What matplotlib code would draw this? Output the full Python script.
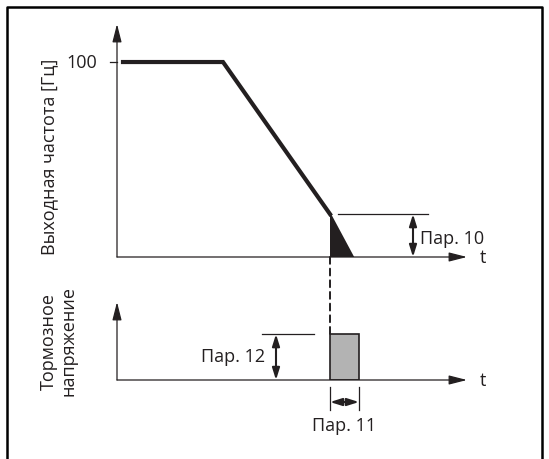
import matplotlib.pyplot as plt
from matplotlib.lines import Line2D
from matplotlib.patches import Rectangle, ConnectionPatch

plt.rcParams['font.family'] = ['Open Sans', 'DejaVu Sans']

# output frequency profile (t in arbitrary units, f in Hz)
ramp_t = [0.06, 1.06, 2.13]
ramp_f = [100, 100, 22]
brake_t = [2.13, 2.36]
brake_f = [22, 0]
par10_level = 22
f_tick = 100

# braking voltage pulse
dc_start = 2.13
dc_end = 2.42
dc_level = 1.0

freq_label = 'Выходная частота [Гц]'
volt_label = 'Тормозное\nнапряжение'
par_labels = ['Пар. 10', 'Пар. 11', 'Пар. 12']

ink = '#231f20'
fs = 13

W, H = 549, 460
fig = plt.figure(figsize=(W / 100, H / 100), dpi=100)

ax1 = fig.add_axes([117 / W, (H - 258) / H, 375 / W, 233 / H])
ax2 = fig.add_axes([117 / W, (H - 381) / H, 375 / W, 78 / H])
for ax, top in [(ax1, 119.5), (ax2, 1.7)]:
    ax.set_xlim(0, 3.75)
    ax.set_ylim(0, top)
    ax.axis('off')
    # axes with arrow heads
    ax.annotate('', xy=(0, top), xytext=(0, 0), annotation_clip=False,
                arrowprops=dict(arrowstyle='-|>,head_length=1.1,head_width=0.28',
                                mutation_scale=10, lw=0.9, color=ink,
                                shrinkA=0, shrinkB=0))
    ax.annotate('', xy=(3.5, 0), xytext=(0, 0), annotation_clip=False,
                arrowprops=dict(arrowstyle='-|>,head_length=1.1,head_width=0.28',
                                mutation_scale=10, lw=0.9, color=ink,
                                shrinkA=0, shrinkB=0))
    ax.text(3.66, 0, 't', fontsize=fs, color=ink, ha='center', va='center')

dbl = dict(arrowstyle='<|-|>,head_length=0.7,head_width=0.22',
           mutation_scale=10, lw=1.5, color=ink, shrinkA=0, shrinkB=0)

# top chart
ax1.plot([-0.07, 0], [f_tick, f_tick], color=ink, lw=0.9, clip_on=False)
ax1.text(-0.2, f_tick, str(f_tick), fontsize=fs, color=ink, ha='right', va='center')
ax1.plot(ramp_t, ramp_f, color=ink, lw=3, solid_joinstyle='miter', clip_on=False)
ax1.fill([brake_t[0], brake_t[0], brake_t[1]], [brake_f[0], 0, brake_f[1]],
         color=ink, lw=0)
ax1.plot(brake_t, brake_f, color=ink, lw=1.5)
ax1.plot([2.21, 3.11], [par10_level, par10_level], color=ink, lw=0.9)
ax1.annotate('', xy=(2.96, 0), xytext=(2.96, par10_level), arrowprops=dbl)
ax1.text(3.03, 9.5, par_labels[0], fontsize=fs, color=ink, ha='left', va='center')

# bottom chart
ax2.add_patch(Rectangle((dc_start, 0), dc_end - dc_start, dc_level,
                        facecolor='#b3b3b3', edgecolor=ink, lw=1.2))
ax2.plot([1.45, 1.97], [dc_level, dc_level], color=ink, lw=0.9)
ax2.annotate('', xy=(1.59, 0), xytext=(1.59, dc_level), arrowprops=dbl)
ax2.text(1.48, 0.52, par_labels[2], fontsize=fs, color=ink, ha='right', va='center')
for x in [dc_start, dc_end]:
    ax2.plot([x, x], [-0.15, -0.65], color=ink, lw=0.9, clip_on=False)
ax2.annotate('', xy=(dc_end, -0.48), xytext=(dc_start, -0.48),
             annotation_clip=False, arrowprops=dbl)
ax2.text((dc_start + dc_end) / 2, -0.98, par_labels[1], fontsize=fs, color=ink,
         ha='center', va='center')

# dashed link between the two charts
fig.add_artist(ConnectionPatch((dc_start, 0), (dc_start, dc_level), 'data', 'data',
                               axesA=ax1, axesB=ax2, color=ink, lw=1.4,
                               linestyle=(0, (3.5, 2.5))))

fig.text(49 / W, 1 - 157 / H, freq_label, rotation=90, fontsize=fs, color=ink,
         ha='center', va='center')
fig.text(59 / W, 1 - 341 / H, volt_label, rotation=90, fontsize=fs, color=ink,
         ha='center', va='center', multialignment='center', linespacing=1.1)

# outer frame (open at the bottom)
fig.add_artist(Line2D([7 / W, 7 / W, 542 / W, 542 / W], [0, 1 - 8 / H, 1 - 8 / H, 0],
                      transform=fig.transFigure, color='black', lw=1.8))

fig.savefig('out.png', dpi=100)
